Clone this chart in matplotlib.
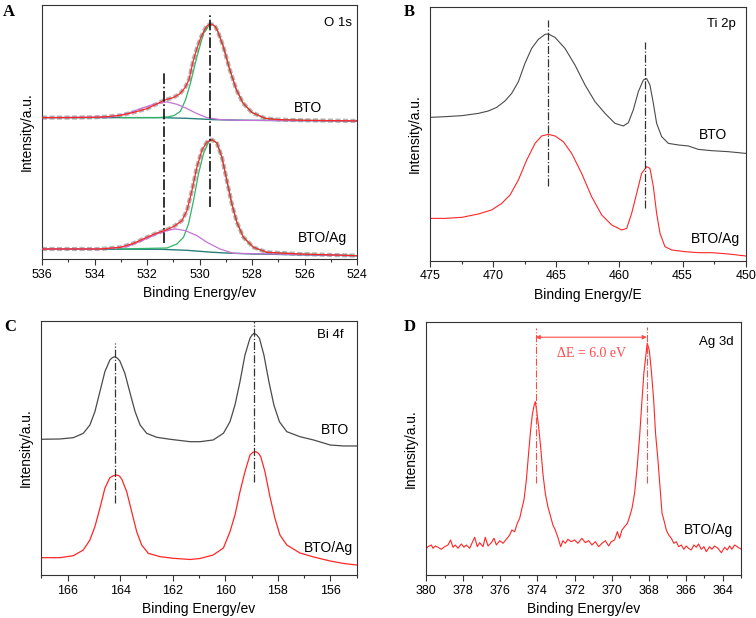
import matplotlib
matplotlib.use('Agg')
import matplotlib.pyplot as plt
from matplotlib.ticker import MultipleLocator

plt.rcParams['font.family'] = ['Liberation Sans', 'DejaVu Sans']
plt.rcParams['lines.solid_joinstyle'] = 'round'

# ---------------- A: O 1s ----------------
a_top_e = [536.0, 535.0, 534.0, 533.5, 533.0, 532.5, 532.0, 531.6, 531.35, 531.0, 530.75, 530.55,
           530.4, 530.25, 530.1, 529.95, 529.8, 529.7, 529.6, 529.5, 529.4, 529.3, 529.1, 528.85,
           528.6, 528.35, 528.0, 527.5, 527.0, 526.0, 525.0, 524.0]
a_top_i = [141.0, 141.0, 141.3, 142.0, 143.3, 146.3, 150.0, 155.0, 158.3, 161.0, 164.7, 171.0,
           179.0, 196.7, 210.0, 221.0, 229.0, 233.0, 234.3, 233.7, 231.7, 226.7, 212.3, 189.0,
           169.0, 155.7, 146.0, 140.3, 139.0, 138.3, 138.0, 137.7]
a_top_green_e = [533.0, 531.6, 531.2, 530.95, 530.73, 530.54, 530.35, 530.1, 529.85, 529.6, 529.5, 529.4,
                 529.3, 529.1, 528.85, 528.6, 528.35, 528.0, 527.5, 527.0, 526.0, 524.0]
a_top_green_i = [141.0, 141.0, 141.7, 143.3, 147.3, 158.3, 175.0, 201.7, 225.0, 234.3, 233.7, 231.7,
                 226.7, 212.3, 189.0, 169.0, 155.7, 146.0, 140.3, 139.0, 138.3, 137.7]
a_top_purple_e = [536.0, 533.4, 532.76, 532.25, 531.75, 531.24, 530.86, 530.48, 530.1, 529.72, 529.21, 528.5, 524.0]
a_top_purple_i = [141.0, 141.7, 145.0, 150.0, 154.3, 156.7, 154.3, 150.0, 145.0, 141.0, 139.0, 138.3, 137.7]
a_top_base_e = [536.0, 531.5, 530.5, 530.0, 529.5, 529.0, 528.0, 524.0]
a_top_base_i = [141.0, 141.0, 140.3, 139.7, 139.0, 138.7, 138.3, 137.7]

a_bot_e = [536.0, 533.77, 533.01, 532.51, 532.0, 531.62, 531.34, 530.99, 530.67, 530.48, 530.29, 530.1,
           529.91, 529.72, 529.53, 529.34, 529.15, 528.96, 528.77, 528.58, 528.33, 527.95, 527.44, 526.18, 524.0]
a_bot_i = [10.0, 10.0, 11.7, 15.7, 21.7, 26.0, 28.3, 32.3, 38.3, 48.3, 68.3, 91.7,
           108.3, 116.7, 119.0, 115.7, 101.7, 78.3, 55.0, 36.7, 21.7, 11.7, 6.7, 5.0, 3.3]
a_bot_green_e = [533.0, 531.24, 530.86, 530.61, 530.42, 530.23, 530.04, 529.85, 529.66, 529.53, 529.34,
                 529.15, 528.96, 528.77, 528.58, 528.33, 527.95, 527.44, 526.18, 524.0]
a_bot_green_i = [10.0, 11.0, 15.0, 21.7, 35.0, 58.3, 85.0, 105.0, 116.7, 119.0, 115.7,
                 101.7, 78.3, 55.0, 36.7, 21.7, 11.7, 6.7, 5.0, 3.3]
a_bot_purple_e = [536.0, 533.77, 532.76, 532.13, 531.62, 531.24, 530.92, 530.54, 530.1, 529.72, 529.22, 528.71, 524.0]
a_bot_purple_i = [10.0, 10.0, 12.3, 19.0, 25.0, 28.3, 30.0, 28.3, 23.3, 16.7, 10.0, 5.7, 3.3]
a_bot_base_e = [536.0, 531.5, 530.5, 530.0, 529.5, 529.0, 528.0, 524.0]
a_bot_base_i = [10.0, 9.7, 8.7, 7.7, 6.7, 6.0, 5.0, 3.3]

a_marks = [531.35, 529.6]
a_marks_lo = [15.7, 51.7]
a_marks_hi = [187.7, 244.3]

# ---------------- B: Ti 2p ----------------
b_bto_e = [475.0, 473.81, 472.49, 471.17, 470.38, 469.72, 469.06, 468.53, 468.0, 467.48, 466.95, 466.42,
           465.89, 465.63, 465.1, 464.31, 463.52, 462.72, 461.93, 461.14, 460.35, 459.69, 459.29, 458.9,
           458.5, 458.1, 457.84, 457.58, 457.31, 457.05, 456.65, 456.12, 455.33, 454.54, 453.75, 452.69,
           451.37, 450.0]
b_bto_i = [143.3, 144.0, 145.0, 147.3, 149.7, 153.3, 159.7, 167.3, 179.0, 197.3, 212.3, 221.3,
           226.3, 226.7, 223.3, 212.3, 195.7, 175.7, 159.0, 147.3, 137.3, 134.7, 138.0, 150.7,
           169.0, 180.7, 182.0, 175.7, 157.3, 137.3, 124.0, 117.3, 115.7, 114.7, 111.3, 110.0,
           109.0, 107.3]
b_ag_e = [475.0, 473.81, 472.49, 471.17, 470.12, 469.32, 468.66, 468.0, 467.34, 466.68, 466.16, 465.63,
          465.1, 464.44, 463.78, 462.99, 462.2, 461.4, 460.61, 459.82, 459.42, 459.03, 458.63, 458.24,
          457.84, 457.58, 457.31, 457.05, 456.78, 456.39, 455.86, 454.8, 453.75, 452.69, 451.37, 450.0]
b_ag_i = [42.3, 42.3, 43.3, 46.7, 50.7, 57.3, 65.7, 80.7, 100.7, 117.3, 124.7, 126.3,
          124.7, 119.0, 107.3, 87.3, 64.0, 45.7, 35.7, 30.7, 32.3, 47.3, 67.3, 87.3,
          94.0, 92.3, 74.0, 47.3, 27.3, 14.0, 10.7, 9.0, 8.0, 8.0, 6.7, 4.7]
b_marks = [465.68, 457.97]
b_marks_lo = [74.7, 52.3]
b_marks_hi = [240.7, 219.0]

# ---------------- C: Bi 4f ----------------
c_bto_e = [167.0, 166.29, 165.78, 165.40, 165.15, 164.96, 164.77, 164.58, 164.39, 164.3, 164.2, 164.1,
           164.01, 163.82, 163.62, 163.43, 163.24, 162.99, 162.61, 162.1, 161.34, 160.96, 160.46, 160.07,
           159.82, 159.63, 159.44, 159.25, 159.06, 158.98, 158.9, 158.8, 158.7, 158.53, 158.34, 158.15,
           157.94, 157.66, 157.16, 156.64, 156.01, 155.5, 155.0]
c_bto_i = [135.7, 136.0, 137.3, 141.7, 150.0, 163.3, 183.3, 203.3, 215.0, 217.3, 218.3, 216.7,
           214.0, 201.7, 181.7, 163.3, 150.0, 141.7, 137.7, 135.7, 133.3, 133.3, 135.0, 141.7,
           153.3, 170.0, 193.3, 220.0, 236.7, 240.0, 241.7, 240.0, 236.7, 220.0, 193.3, 170.0,
           153.3, 143.3, 138.3, 135.0, 130.0, 129.0, 129.0]
c_ag_e = [167.0, 166.29, 165.78, 165.40, 165.15, 164.96, 164.77, 164.58, 164.39, 164.25, 164.13, 164.03,
          163.94, 163.75, 163.56, 163.37, 163.18, 162.93, 162.48, 161.98, 161.34, 160.96, 160.46, 160.07,
          159.82, 159.63, 159.44, 159.25, 159.06, 158.95, 158.83, 158.74, 158.65, 158.49, 158.3, 158.11,
          157.92, 157.66, 157.16, 156.64, 156.01, 155.5, 155.0]
c_ag_i = [17.3, 17.3, 19.3, 25.0, 35.0, 48.3, 66.7, 86.7, 97.3, 99.3, 100.0, 99.0,
          96.0, 83.3, 63.3, 43.3, 30.0, 21.7, 18.3, 16.7, 15.5, 16.5, 20.0, 27.0,
          43.3, 60.0, 83.3, 103.3, 120.0, 122.7, 123.3, 121.7, 118.3, 103.3, 78.3, 56.7,
          40.0, 30.0, 22.0, 18.0, 14.0, 11.5, 10.0]
c_marks = [164.2, 158.9]
c_marks_lo = [71.7, 93.3]
c_marks_hi = [231.7, 253.5]

# ---------------- D: Ag 3d ----------------
d_e = [380.0, 379.91, 379.73, 379.64, 379.51, 379.37, 379.19, 379.01, 378.83, 378.69, 378.56, 378.44,
       378.29, 378.11, 377.97, 377.84, 377.66, 377.54, 377.39, 377.25, 377.12, 376.94, 376.82, 376.67,
       376.49, 376.35, 376.22, 376.04, 375.86, 375.68, 375.5, 375.38, 375.23, 375.09, 374.96, 374.84,
       374.73, 374.6, 374.48, 374.37, 374.28, 374.19, 374.12, 374.05, 373.94, 373.83, 373.71, 373.58,
       373.44, 373.29, 373.17, 373.04, 372.9, 372.75, 372.63, 372.5, 372.36, 372.18, 372.0, 371.82,
       371.6, 371.42, 371.24, 371.06, 370.88, 370.7, 370.52, 370.34, 370.16, 370.02, 369.84, 369.69,
       369.57, 369.44, 369.3, 369.15, 369.03, 368.9, 368.76, 368.62, 368.49, 368.36, 368.26, 368.17,
       368.08, 367.97, 367.86, 367.73, 367.63, 367.5, 367.39, 367.28, 367.18, 367.05, 366.92, 366.78,
       366.64, 366.51, 366.38, 366.24, 366.1, 365.97, 365.85, 365.7, 365.56, 365.43, 365.31, 365.16,
       365.02, 364.89, 364.71, 364.59, 364.44, 364.26, 364.08, 363.9, 363.76, 363.63, 363.51, 363.36,
       363.18, 363.0]
d_i = [26.7, 28.3, 30.0, 26.7, 29.0, 27.7, 25.7, 28.3, 30.0, 35.0, 27.7, 30.0,
       26.7, 31.0, 27.7, 30.0, 26.7, 31.7, 37.7, 28.3, 32.3, 28.3, 37.7, 29.0,
       32.3, 36.7, 30.0, 34.3, 31.7, 35.7, 40.0, 45.0, 43.3, 51.7, 56.7, 66.7,
       75.0, 95.0, 121.7, 145.0, 160.0, 169.0, 173.3, 165.0, 148.3, 128.3, 101.7, 81.7,
       68.3, 58.3, 50.0, 45.0, 37.7, 28.3, 34.3, 31.7, 35.7, 33.3, 35.0, 31.7,
       36.7, 32.3, 34.3, 30.0, 33.3, 28.3, 31.7, 34.3, 29.0, 33.3, 35.0, 43.3,
       36.7, 45.0, 48.3, 51.7, 58.3, 66.7, 81.7, 108.3, 138.3, 175.0, 201.7, 216.7,
       231.7, 225.0, 205.0, 175.0, 141.7, 115.0, 88.3, 61.7, 55.0, 45.0, 40.0, 36.7,
       31.7, 33.3, 28.3, 30.0, 25.7, 29.0, 26.7, 25.0, 30.0, 27.7, 31.0, 25.7,
       28.3, 23.3, 28.3, 25.7, 29.0, 26.7, 22.3, 27.7, 25.0, 29.0, 25.7, 30.0,
       27.7, 25.7]
d_marks = [374.1, 368.1]
d_marks_lo = [92.3, 92.3]
d_marks_hi = [246.7, 248.3]
d_arrow_y = 237.7
d_delta_text = 'ΔE = 6.0 eV'

RED = '#ff2626'
DARK = '#4a4a4a'


def style(ax, xlim, ylim, major, minor, xlabel):
    ax.set_xlim(*xlim)
    ax.set_ylim(*ylim)
    ax.xaxis.set_major_locator(MultipleLocator(major))
    ax.xaxis.set_minor_locator(MultipleLocator(minor))
    ax.tick_params(axis='x', which='major', direction='out', length=4, width=0.8,
                   labelsize=9, pad=3, color='#333333')
    ax.tick_params(axis='x', which='minor', direction='out', length=2.5, width=0.8, color='#333333')
    ax.set_yticks([])
    ax.set_xlabel(xlabel, fontsize=10, labelpad=4)
    ax.set_ylabel('Intensity/a.u.', fontsize=10, labelpad=6)
    for s in ax.spines.values():
        s.set_linewidth(0.8)
        s.set_color('#333333')


def marks(ax, xs, lo, hi, color, lw):
    for x, y0, y1 in zip(xs, lo, hi):
        ax.plot([x, x], [y0, y1], color=color, lw=lw, ls='-.', zorder=5)


fig = plt.figure(figsize=(7.56, 6.18), dpi=100)

# A
ax = fig.add_axes([0.0556, 0.5809, 0.4167, 0.411])
for e, i, ge, gi, pe, pi, be, bi in [
        (a_top_e, a_top_i, a_top_green_e, a_top_green_i, a_top_purple_e, a_top_purple_i, a_top_base_e, a_top_base_i),
        (a_bot_e, a_bot_i, a_bot_green_e, a_bot_green_i, a_bot_purple_e, a_bot_purple_i, a_bot_base_e, a_bot_base_i)]:
    ax.plot(e, i, color='#b4b4b4', lw=3.0, ls=(0, (1.2, 0.6)), zorder=1)
    ax.plot(be, bi, color='#2a7f7a', lw=1.0, zorder=2)
    ax.plot(ge, gi, color='#2fb56a', lw=0.9, zorder=3)
    ax.plot(pe, pi, color='#c373d6', lw=0.9, zorder=3)
    ax.plot(e, i, color=RED, lw=0.9, zorder=4)
marks(ax, a_marks, a_marks_lo, a_marks_hi, '#111111', 1.2)
style(ax, (536, 524), (0, 253.3), 2, 1, 'Binding Energy/ev')
ax.text(0.94, 0.93, 'O 1s', transform=ax.transAxes, fontsize=9.5, ha='center', va='center')
ax.text(0.845, 0.594, 'BTO', transform=ax.transAxes, fontsize=10, ha='center', va='center')
ax.text(0.889, 0.083, 'BTO/Ag', transform=ax.transAxes, fontsize=10, ha='center', va='center')

# B
ax = fig.add_axes([0.5688, 0.5782, 0.4175, 0.411])
ax.plot(b_bto_e, b_bto_i, color=DARK, lw=0.8)
ax.plot(b_ag_e, b_ag_i, color=RED, lw=0.8)
marks(ax, b_marks, b_marks_lo, b_marks_hi, '#333333', 0.9)
style(ax, (475, 450), (0, 254), 5, 2.5, 'Binding Energy/E')
ax.text(0.924, 0.932, 'Ti 2p', transform=ax.transAxes, fontsize=9.5, ha='center', va='center')
ax.text(0.898, 0.495, 'BTO', transform=ax.transAxes, fontsize=10, ha='center', va='center')
ax.text(0.903, 0.084, 'BTO/Ag', transform=ax.transAxes, fontsize=10, ha='center', va='center')

# C
ax = fig.add_axes([0.0546, 0.0696, 0.4172, 0.4115])
ax.plot(c_bto_e, c_bto_i, color=DARK, lw=0.9)
ax.plot(c_ag_e, c_ag_i, color=RED, lw=0.9)
marks(ax, c_marks, c_marks_lo, c_marks_hi, '#333333', 0.9)
style(ax, (167, 155), (0, 254.3), 2, 1, 'Binding Energy/ev')
ax.text(0.915, 0.944, 'Bi 4f', transform=ax.transAxes, fontsize=9.5, ha='center', va='center')
ax.text(0.931, 0.570, 'BTO', transform=ax.transAxes, fontsize=10, ha='center', va='center')
ax.text(0.91, 0.105, 'BTO/Ag', transform=ax.transAxes, fontsize=10, ha='center', va='center')

# D
ax = fig.add_axes([0.5639, 0.0696, 0.4167, 0.41])
ax.plot(d_e, d_i, color=RED, lw=0.8)
marks(ax, d_marks, d_marks_lo, d_marks_hi, '#ff4a4a', 0.8)
ax.annotate('', xy=(d_marks[1], d_arrow_y), xytext=(d_marks[0], d_arrow_y),
            arrowprops=dict(arrowstyle='<|-|>', color='#ff4a4a', lw=0.8, mutation_scale=6,
                            shrinkA=0, shrinkB=0))
ax.text(sum(d_marks) / 2, 221.7, d_delta_text, color='#ff4a4a', fontsize=10,
        family=['Liberation Serif', 'DejaVu Serif'], ha='center', va='center')
style(ax, (380, 363), (0, 253.3), 2, 1, 'Binding Energy/ev')
ax.text(0.92, 0.921, 'Ag 3d', transform=ax.transAxes, fontsize=9.5, ha='center', va='center')
ax.text(0.894, 0.178, 'BTO/Ag', transform=ax.transAxes, fontsize=10, ha='center', va='center')

# panel letters
for x, y, s in [(0.012, 0.981, 'A'), (0.542, 0.981, 'B'), (0.013, 0.471, 'C'), (0.542, 0.471, 'D')]:
    fig.text(x, y, s, fontsize=12, fontweight='bold', family=['Liberation Serif', 'DejaVu Serif'],
             ha='center', va='center')

fig.savefig('out.png', dpi=100)
